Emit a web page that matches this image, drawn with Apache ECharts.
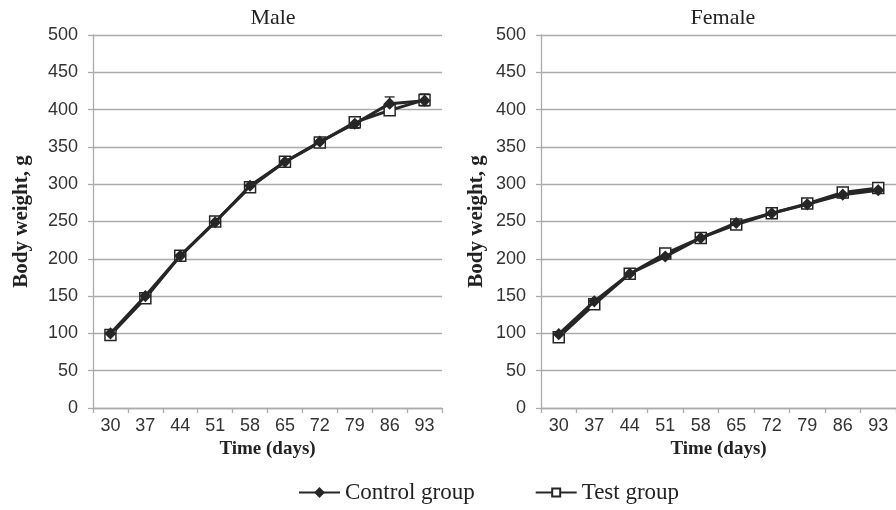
<!DOCTYPE html>
<html>
<head>
<meta charset="utf-8">
<script src="https://cdn.jsdelivr.net/npm/echarts@6/dist/echarts.min.js"></script>
<style>
  html, body { margin: 0; padding: 0; background: #fff; }
  #main { width: 896px; height: 510px; }
</style>
</head>
<body>
<div id="main"></div>
<script>
var days = ['30', '37', '44', '51', '58', '65', '72', '79', '86', '93'];

var maleControl = [100, 150, 204, 249, 298, 330, 357, 381, 408, 412];
var maleTest    = [98, 147, 204, 250, 296, 330, 356, 383, 399, 413];
var maleControlSD = [3, 4, 4, 4, 5, 5, 5, 6, 9, 6];
var maleTestSD    = [3, 4, 4, 5, 5, 5, 5, 6, 5, 8];

var femaleControl = [99, 143, 180, 203, 228, 248, 261, 273, 286, 292];
var femaleTest    = [95, 139, 180, 207, 228, 246, 261, 274, 289, 295];
var femaleControlSD = [3, 3, 3, 3, 3, 4, 4, 4, 4, 4];
var femaleTestSD    = [3, 3, 3, 3, 3, 4, 4, 4, 4, 4];

var dark = '#262626';
var grey = '#ababab';
var serif = '"Liberation Serif", "Times New Roman", serif';
var sans = '"Liberation Sans", Arial, sans-serif';

function errData(vals, sd) {
    return vals.map(function (v, i) { return [i, v - sd[i], v + sd[i]]; });
}

function errSeries(idx, vals, sd) {
    return {
        type: 'custom',
        xAxisIndex: idx,
        yAxisIndex: idx,
        silent: true,
        z: 1,
        data: errData(vals, sd),
        renderItem: function (params, api) {
            var lo = api.coord([api.value(0), api.value(1)]);
            var hi = api.coord([api.value(0), api.value(2)]);
            var w = 5;
            var st = { stroke: dark, lineWidth: 1.3 };
            return {
                type: 'group',
                children: [
                    { type: 'line', shape: { x1: hi[0], y1: hi[1], x2: lo[0], y2: lo[1] }, style: st },
                    { type: 'line', shape: { x1: hi[0] - w, y1: hi[1], x2: hi[0] + w, y2: hi[1] }, style: st },
                    { type: 'line', shape: { x1: lo[0] - w, y1: lo[1], x2: lo[0] + w, y2: lo[1] }, style: st }
                ]
            };
        }
    };
}

function xAx(idx) {
    return {
        type: 'category',
        gridIndex: idx,
        data: days,
        boundaryGap: true,
        name: 'Time (days)',
        nameLocation: 'middle',
        nameGap: 20,
        nameTextStyle: { fontFamily: serif, fontWeight: 'bold', fontSize: 19, color: '#222' },
        axisLine: { lineStyle: { color: grey, width: 1.3 } },
        axisTick: { show: true, length: 5, lineStyle: { color: grey, width: 1.3 } },
        axisLabel: { fontFamily: sans, fontSize: 18, color: '#333', margin: 9 },
        splitLine: { show: false }
    };
}

function yAx(idx, gap) {
    return {
        type: 'value',
        gridIndex: idx,
        min: 0,
        max: 500,
        interval: 50,
        name: 'Body weight, g',
        nameLocation: 'middle',
        nameGap: gap,
        nameTextStyle: { fontFamily: serif, fontWeight: 'bold', fontSize: 21, color: '#222' },
        axisLine: { show: true, lineStyle: { color: grey, width: 1.3 } },
        axisTick: { show: true, length: 5, lineStyle: { color: grey, width: 1.3 } },
        axisLabel: { fontFamily: sans, fontSize: 18, color: '#333', margin: 15 },
        splitLine: { lineStyle: { color: grey, width: 1.3 } }
    };
}

function lineSeries(name, idx, vals, symbol, size, fill) {
    return {
        name: name,
        type: 'line',
        xAxisIndex: idx,
        yAxisIndex: idx,
        data: vals,
        symbol: symbol,
        symbolSize: size,
        showAllSymbol: true,
        z: name === 'Control group' ? 4 : 3,
        lineStyle: { color: dark, width: 3 },
        itemStyle: { color: fill, borderColor: dark, borderWidth: 1.5 }
    };
}

var option = {
    animation: false,
    backgroundColor: '#fff',
    title: [
        { text: 'Male', left: 268, top: 2, textAlign: 'center',
          textStyle: { fontFamily: serif, fontWeight: 'normal', fontSize: 22, color: '#222' } },
        { text: 'Female', left: 718, top: 2, textAlign: 'center',
          textStyle: { fontFamily: serif, fontWeight: 'normal', fontSize: 22, color: '#222' } }
    ],
    legend: {
        left: 293,
        top: 476,
        itemWidth: 41,
        itemHeight: 10,
        itemGap: 60,
        textStyle: { fontFamily: serif, fontSize: 23, color: '#222' },
        data: ['Control group', 'Test group']
    },
    grid: [
        { left: 93, top: 35, width: 349, height: 373 },
        { left: 541, top: 35, width: 361, height: 373 }
    ],
    xAxis: [xAx(0), xAx(1)],
    yAxis: [yAx(0, 61), yAx(1, 54)],
    series: [
        errSeries(0, maleTest, maleTestSD),
        errSeries(0, maleControl, maleControlSD),
        errSeries(1, femaleTest, femaleTestSD),
        errSeries(1, femaleControl, femaleControlSD),
        lineSeries('Test group', 0, maleTest, 'rect', 11, '#fff'),
        lineSeries('Control group', 0, maleControl, 'diamond', 10, dark),
        lineSeries('Test group', 1, femaleTest, 'rect', 11, '#fff'),
        lineSeries('Control group', 1, femaleControl, 'diamond', 10, dark)
    ]
};

var myChart = echarts.init(document.getElementById('main'));
myChart.setOption(option);
</script>
</body>
</html>
